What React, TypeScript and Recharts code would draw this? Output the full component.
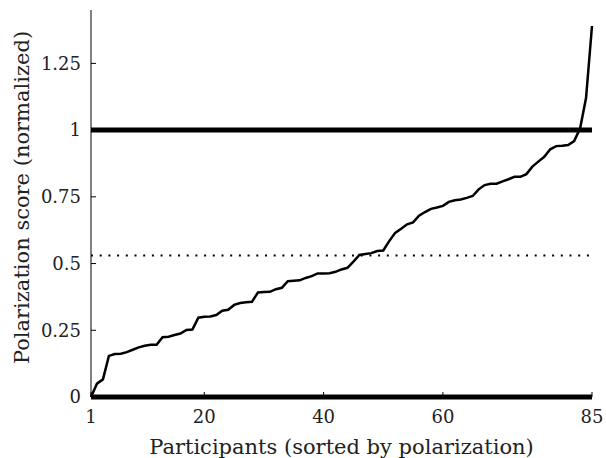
import { CartesianGrid, Line, LineChart, ReferenceLine, XAxis, YAxis } from "recharts";

const scores = [
  0, 0.05, 0.066, 0.154, 0.161, 0.162, 0.168, 0.177, 0.186, 0.192,
  0.196, 0.196, 0.224, 0.226, 0.232, 0.238, 0.251, 0.253, 0.297, 0.301,
  0.302, 0.307, 0.323, 0.327, 0.345, 0.352, 0.355, 0.357, 0.392, 0.393,
  0.394, 0.404, 0.409, 0.434, 0.436, 0.437, 0.446, 0.453, 0.463, 0.463,
  0.464, 0.469, 0.478, 0.484, 0.507, 0.532, 0.536, 0.539, 0.547, 0.549,
  0.584, 0.615, 0.63, 0.647, 0.654, 0.679, 0.693, 0.705, 0.71, 0.716,
  0.731, 0.737, 0.74, 0.746, 0.753, 0.778, 0.794, 0.799, 0.799, 0.808,
  0.816, 0.825, 0.825, 0.835, 0.863, 0.882, 0.9, 0.928, 0.94, 0.941,
  0.944, 0.959, 1.006, 1.12, 1.39
];
const participants = scores.map((_, i) => i + 1);

const xTicks = [1, 20, 40, 60, 85];
const yTicks = [0, 0.25, 0.5, 0.75, 1, 1.25];
const meanScore = 0.53;
const threshold = 1;

const data = participants.map((p, i) => ({ p, score: scores[i] }));

const font = "DejaVu Serif";
const tickStyle = { fontFamily: font, fontSize: 18, fill: "#222" };

export default function App() {
  return (
    <div style={{ position: "absolute", left: 0, top: 0, fontFamily: font }}>
      <LineChart
        width={606}
        height={458}
        data={data}
        margin={{ top: 10, right: 14, left: 0, bottom: 0 }}
      >
        <CartesianGrid stroke="none" />
        <XAxis
          dataKey="p"
          type="number"
          domain={[1, 85]}
          ticks={xTicks}
          height={61}
          axisLine={false}
          tickSize={-5}
          tickMargin={18}
          tickLine={{ stroke: "#000" }}
          tick={tickStyle}
          label={{
            value: "Participants (sorted by polarization)",
            position: "insideBottom",
            offset: 4,
            fontFamily: font,
            fontSize: 21,
            fill: "#222"
          }}
        />
        <YAxis
          type="number"
          domain={[0, 1.45]}
          ticks={yTicks}
          width={91}
          axisLine={{ stroke: "#000" }}
          tickSize={-5}
          tickMargin={15}
          tickLine={{ stroke: "#000" }}
          tick={tickStyle}
          label={{
            value: "Polarization score (normalized)",
            angle: -90,
            position: "insideLeft",
            offset: 22,
            dy: -6,
            fontFamily: font,
            fontSize: 21,
            fill: "#222",
            style: { textAnchor: "middle" }
          }}
        />
        <ReferenceLine y={0} stroke="#000" strokeWidth={5} />
        <ReferenceLine y={threshold} stroke="#000" strokeWidth={5} />
        <ReferenceLine y={meanScore} stroke="#000" strokeWidth={2} strokeDasharray="2 6.7" />
        <Line
          type="linear"
          dataKey="score"
          stroke="#000"
          strokeWidth={2.5}
          dot={false}
          isAnimationActive={false}
        />
      </LineChart>
    </div>
  );
}
